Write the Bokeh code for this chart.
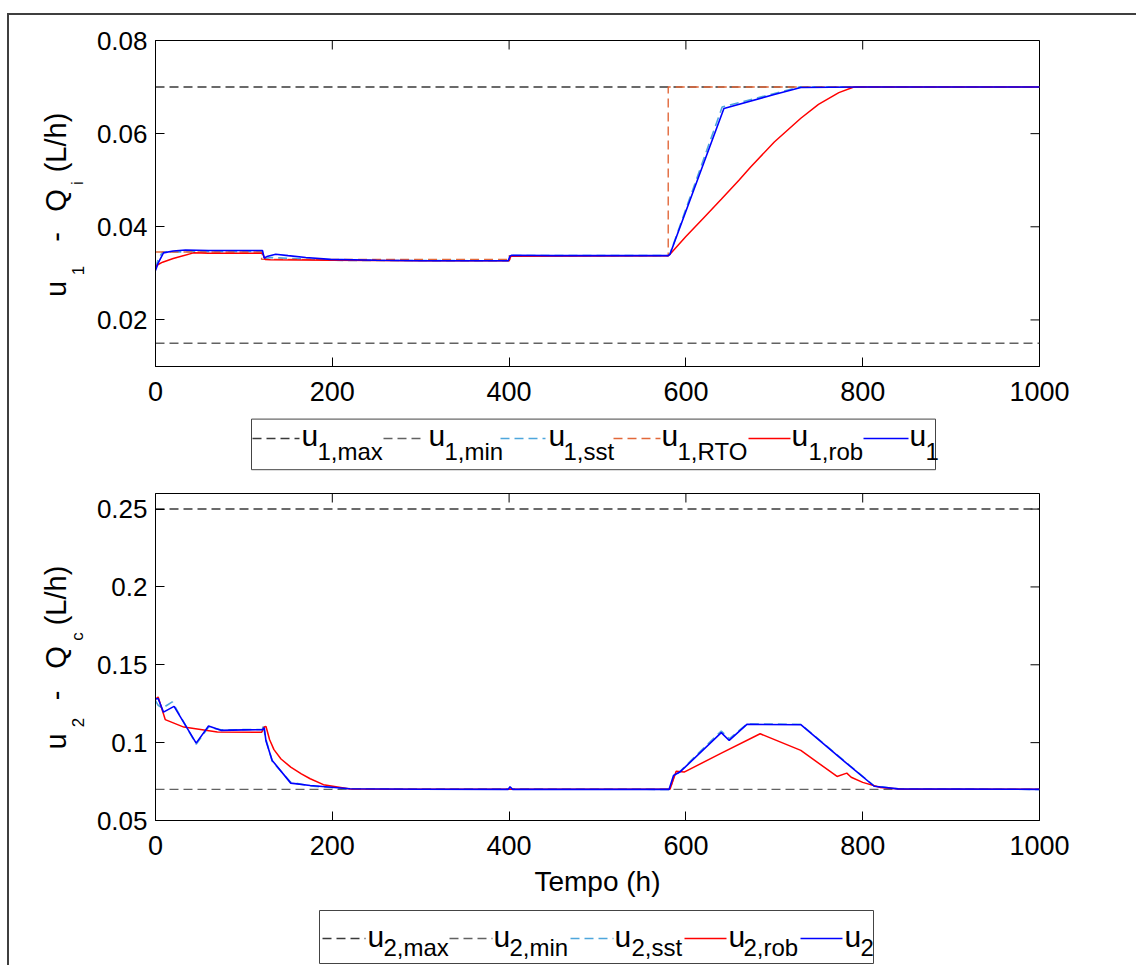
import math
from bokeh.plotting import figure
from bokeh.models import Range1d, LinearAxis, FixedTicker, CustomJSTickFormatter
from bokeh.layouts import column, row
from bokeh.embed import file_html
from bokeh.resources import INLINE
from bokeh.core.properties import value

# ---------------- data ----------------
T_LIMITS = [0, 1000]
U1_MAX = [0.07, 0.07]
U1_MIN = [0.015, 0.015]
U2_MAX = [0.25, 0.25]
U2_MIN = [0.07, 0.07]

T_U1 = [0, 3, 9, 20, 34, 60, 100, 121, 123, 126, 136, 150, 170, 198, 250, 300, 399, 401, 403, 450,
        580, 582, 643, 700, 730, 800, 1000]
U1 = [0.0306, 0.0322, 0.0344, 0.0348, 0.0350, 0.0349, 0.0349, 0.0349, 0.0333, 0.0336, 0.0341, 0.0338,
      0.0334, 0.0330, 0.0328, 0.0327, 0.0327, 0.0337, 0.0339, 0.0338, 0.0338, 0.0341, 0.0654, 0.0684,
      0.0699, 0.0700, 0.0700]

T_SST1 = [0, 3, 8, 120, 122, 130, 200, 400, 402, 580, 582, 641, 728, 1000]
SST1 = [0.0310, 0.0330, 0.0346, 0.0347, 0.0331, 0.0334, 0.0328, 0.0327, 0.0338, 0.0338, 0.0342, 0.0657,
        0.0700, 0.0700]

T_RTO1 = [0, 120, 120, 400, 400, 580, 580, 1000]
RTO1 = [0.0346, 0.0346, 0.0330, 0.0330, 0.0338, 0.0338, 0.0700, 0.0700]

T_ROB1 = [0, 2, 8, 20, 43, 60, 121, 124, 130, 200, 300, 400, 402, 580, 582, 600, 620, 640, 660, 673,
          700, 730, 750, 773, 790, 1000]
ROB1 = [0.0312, 0.0318, 0.0324, 0.0332, 0.0344, 0.0343, 0.0343, 0.0330, 0.0329, 0.0328, 0.0327, 0.0327,
        0.0337, 0.0338, 0.0341, 0.0379, 0.0419, 0.0459, 0.0500, 0.0528, 0.0582, 0.0633, 0.0663, 0.0688,
        0.0700, 0.0700]

T_U2 = [0, 3, 9, 21, 46, 60, 74, 100, 121, 123, 125, 132, 153, 175, 220, 300, 399, 401, 404, 500,
        581, 586, 594, 640, 649, 669, 730, 786, 813, 840, 1000]
U2 = [0.1280, 0.1283, 0.1196, 0.1233, 0.0997, 0.1107, 0.1079, 0.1082, 0.1083, 0.1095, 0.1010, 0.0886,
      0.0740, 0.0725, 0.0704, 0.0701, 0.0700, 0.0717, 0.0700, 0.0700, 0.0700, 0.0789, 0.0815, 0.1064,
      0.1014, 0.1117, 0.1115, 0.0847, 0.0720, 0.0703, 0.0700]

T_SST2 = [0, 3, 8, 19, 46, 60, 74, 121, 122, 124, 132, 153, 175, 220, 580, 582, 586, 640, 649, 669,
          730, 786, 813, 840, 1000]
SST2 = [0.1270, 0.1240, 0.1222, 0.1262, 0.0990, 0.1100, 0.1082, 0.1085, 0.1120, 0.1040, 0.0880, 0.0745,
        0.0722, 0.0703, 0.0700, 0.0700, 0.0775, 0.1075, 0.1025, 0.1120, 0.1118, 0.0850, 0.0722, 0.0703,
        0.0700]

T_ROB2 = [0, 3, 11, 32, 70, 120, 123, 125, 129, 134, 142, 153, 165, 175, 190, 220, 300, 580, 582, 589,
          598, 639, 684, 730, 771, 782, 787, 800, 820, 845, 1000]
ROB2 = [0.1280, 0.1293, 0.1148, 0.1100, 0.1068, 0.1066, 0.1100, 0.1104, 0.1020, 0.0955, 0.0895, 0.0843,
        0.0800, 0.0768, 0.0730, 0.0703, 0.0700, 0.0700, 0.0700, 0.0817, 0.0811, 0.0929, 0.1057, 0.0950,
        0.0783, 0.0804, 0.0778, 0.0745, 0.0712, 0.0701, 0.0700]

X_TICKS = [0, 200, 400, 600, 800, 1000]
Y1_TICKS = [0.02, 0.04, 0.06, 0.08]
Y1_TICK_LABELS = ["0.02", "0.04", "0.06", "0.08"]
Y2_TICKS = [0.05, 0.1, 0.15, 0.2, 0.25]
Y2_TICK_LABELS = ["0.05", "0.1", "0.15", "0.2", "0.25"]
X_LABEL = "Tempo (h)"

LEG1_SUBS = ["1,max", "1,min", "1,sst", "1,RTO", "1,rob", "1"]
LEG2_SUBS = ["2,max", "2,min", "2,sst", "2,rob", "2"]

# ---------------- style ----------------
FONT = "Liberation Sans"
C_MAX = "#3a3a3a"
C_MIN = "#626262"
C_SST = "#4ea6dc"
C_RTO = "#e2683a"
C_ROB = "#ff0000"
C_U = "#0000ff"
DASH = "9 5"
K = 0.45  # empirical baseline correction of the text glyph (fraction of font size)

S_MAX = dict(line_color=C_MAX, line_dash=DASH, line_width=1.4)
S_MIN = dict(line_color=C_MIN, line_dash=DASH, line_width=1.4)
S_SST = dict(line_color=C_SST, line_dash=DASH, line_width=1.6)
S_RTO = dict(line_color=C_RTO, line_dash=DASH, line_width=1.4)
S_ROB = dict(line_color=C_ROB, line_width=1.5)
S_U = dict(line_color=C_U, line_width=1.6)

FRAME_W = 884


def panel(y0, y1, yticks, ylabels, frame_h, b_top, b_bot, xlabel=None):
    p = figure(x_range=Range1d(0, 1000), y_range=Range1d(y0, y1),
               frame_width=FRAME_W, frame_height=frame_h,
               min_border_left=66, min_border_right=40, min_border_top=b_top, min_border_bottom=b_bot,
               output_backend="svg", toolbar_location=None,
               x_axis_location=None, y_axis_location=None)
    p.grid.visible = False
    p.outline_line_color = "black"
    p.outline_line_alpha = 1.0
    p.outline_line_width = 1
    p.background_fill_color = "white"
    p.border_fill_color = "white"
    common = dict(major_tick_in=9, major_tick_out=0, minor_tick_line_color=None,
                  axis_line_color="black", major_tick_line_color="black", major_tick_line_width=1)
    bx = LinearAxis(ticker=FixedTicker(ticks=X_TICKS), major_label_text_font=FONT,
                    major_label_text_font_size="27px", major_label_standoff=15,
                    major_label_text_color="black", **common)
    if xlabel:
        bx.axis_label = xlabel
        bx.axis_label_text_font = FONT
        bx.axis_label_text_font_size = "28px"
        bx.axis_label_text_font_style = "normal"
        bx.axis_label_text_color = "black"
        bx.axis_label_standoff = 8
    p.add_layout(bx, "below")
    fmt = CustomJSTickFormatter(args=dict(tk=yticks, lb=ylabels), code="""
        for (let i = 0; i < tk.length; i++) { if (Math.abs(tk[i] - tick) < 1e-9) return lb[i]; }
        return '';""")
    ly = LinearAxis(ticker=FixedTicker(ticks=yticks), formatter=fmt, major_label_text_font=FONT,
                    major_label_text_font_size="26px", major_label_standoff=8,
                    major_label_text_color="black", **common)
    p.add_layout(ly, "left")
    # inward ticks on the top and right edges of the box
    dx = 9 * 1000 / FRAME_W
    dy = 9 * (y1 - y0) / frame_h
    nx, ny = len(X_TICKS), len(yticks)
    p.segment(x0=X_TICKS, y0=[y1] * nx, x1=X_TICKS, y1=[y1 - dy] * nx, line_color="black", line_width=1)
    p.segment(x0=[1000] * ny, y0=yticks, x1=[1000 - dx] * ny, y1=yticks, line_color="black", line_width=1)
    return p


def pixfig(w, h, yspan=None):
    f = figure(width=w, height=h, x_range=Range1d(0, w), y_range=Range1d(0, yspan or h),
               output_backend="svg", toolbar_location=None, min_border=0,
               x_axis_location=None, y_axis_location=None)
    f.grid.visible = False
    f.outline_line_color = None
    f.background_fill_color = "white"
    f.border_fill_color = "white"
    return f


# ---------------- top panel ----------------
p1 = panel(0.01, 0.08, Y1_TICKS, Y1_TICK_LABELS, 326, 25, 44)
p1.line(T_LIMITS, U1_MAX, **S_MAX)
p1.line(T_LIMITS, U1_MIN, **S_MIN)
p1.line(T_SST1, SST1, **S_SST)
p1.line(T_RTO1, RTO1, **S_RTO)
p1.line(T_ROB1, ROB1, **S_ROB)
p1.line(T_U1, U1, **S_U)

# ---------------- bottom panel ----------------
p2 = panel(0.05, 0.26, Y2_TICKS, Y2_TICK_LABELS, 327, 11, 80, X_LABEL)
p2.line(T_LIMITS, U2_MAX, **S_MAX)
p2.line(T_LIMITS, U2_MIN, **S_MIN)
p2.line(T_SST2, SST2, **S_SST)
p2.line(T_ROB2, ROB2, **S_ROB)
p2.line(T_U2, U2, **S_U)


# ---------------- y labels (composed with subscripts, pieces centred) ----------------
# In a row, Bokeh aligns this figure's frame with the panel's frame, so its
# vertical data span is mapped onto the panel frame (frame_top .. frame_top + frame_h).
def ylabel_fig(h, frame_top, frame_h, main_c, sub_c, sub1, sub2):
    f = pixfig(80, h, frame_h)
    ly = lambda py: frame_h - (py - frame_top)
    MS, SS = 29, 17
    xb = 69 - K * MS - 9
    xs = 85 - K * SS - 9
    f.text(x=[xb] * 4, y=[ly(v) for v in main_c], text=["u", "-", "Q", "(L/h)"], angle=math.pi / 2,
           text_font=value(FONT), text_font_size=f"{MS}px", text_color="black",
           text_align="center", text_baseline="alphabetic")
    f.text(x=[xs] * 2, y=[ly(v) for v in sub_c], text=[sub1, sub2], angle=math.pi / 2,
           text_font=value(FONT), text_font_size=f"{SS}px", text_color="black",
           text_align="center", text_baseline="alphabetic")
    return f


lab1 = ylabel_fig(395, 40, 326, [288.5, 236.5, 200, 142], [270, 182.5], "1", "i")
lab2 = ylabel_fig(418, 493, 327, [741, 695, 657, 595], [722, 636], "2", "c")


# ---------------- legends ----------------
def legend_fig(h, page_top, box, line_y, u_base, sub_base, items, subs):
    f = pixfig(1127, h)
    US, SS = 30, 24
    lx = lambda px: px - 9
    ly = lambda py: h - (py - page_top)
    f.quad(left=[lx(box[0])], right=[lx(box[1])], top=[ly(box[2])], bottom=[ly(box[3])],
           fill_color="white", line_color="#444444", line_width=1)
    for (x0, x1, ux, sx), st in items:
        f.line([lx(x0), lx(x1)], [ly(line_y), ly(line_y)], **st)
    f.text(x=[lx(it[0][2]) for it in items], y=[ly(u_base - K * US)] * len(items), text=["u"] * len(items),
           text_font=value(FONT), text_font_size=f"{US}px", text_color="black",
           text_align="left", text_baseline="alphabetic")
    f.text(x=[lx(it[0][3]) for it in items], y=[ly(sub_base - K * SS)] * len(items), text=subs,
           text_font=value(FONT), text_font_size=f"{SS}px", text_color="black",
           text_align="left", text_baseline="alphabetic")
    return f


items1 = [((252, 299, 301, 317), S_MAX), ((383, 425, 428, 444), S_MIN), ((500, 545, 548, 563), S_SST),
          ((613, 660, 661, 677), S_RTO), ((748, 790, 791, 808), S_ROB), ((863, 908, 909, 925), S_U)]
leg1 = legend_fig(72, 410, (251, 935, 418.6, 469.2), 438, 448.3, 461.7, items1, LEG1_SUBS)

items2 = [((322, 365, 367, 383), S_MAX), ((449, 492, 493, 509), S_MIN), ((570, 613, 614, 631), S_SST),
          ((684, 726, 728, 743), S_ROB), ((800, 842, 844, 860), S_U)]
leg2 = legend_fig(65, 900, (319, 873, 910, 963), 938, 949, 958, items2, LEG2_SUBS)

layout = column(row(lab1, p1), leg1, row(lab2, p2), leg2,
                styles={"border-left": "2px solid #3f3f3f", "border-top": "2px solid #3f3f3f"},
                margin=(13, 0, 0, 7))

open("out.html", "w").write(file_html(layout, INLINE))
